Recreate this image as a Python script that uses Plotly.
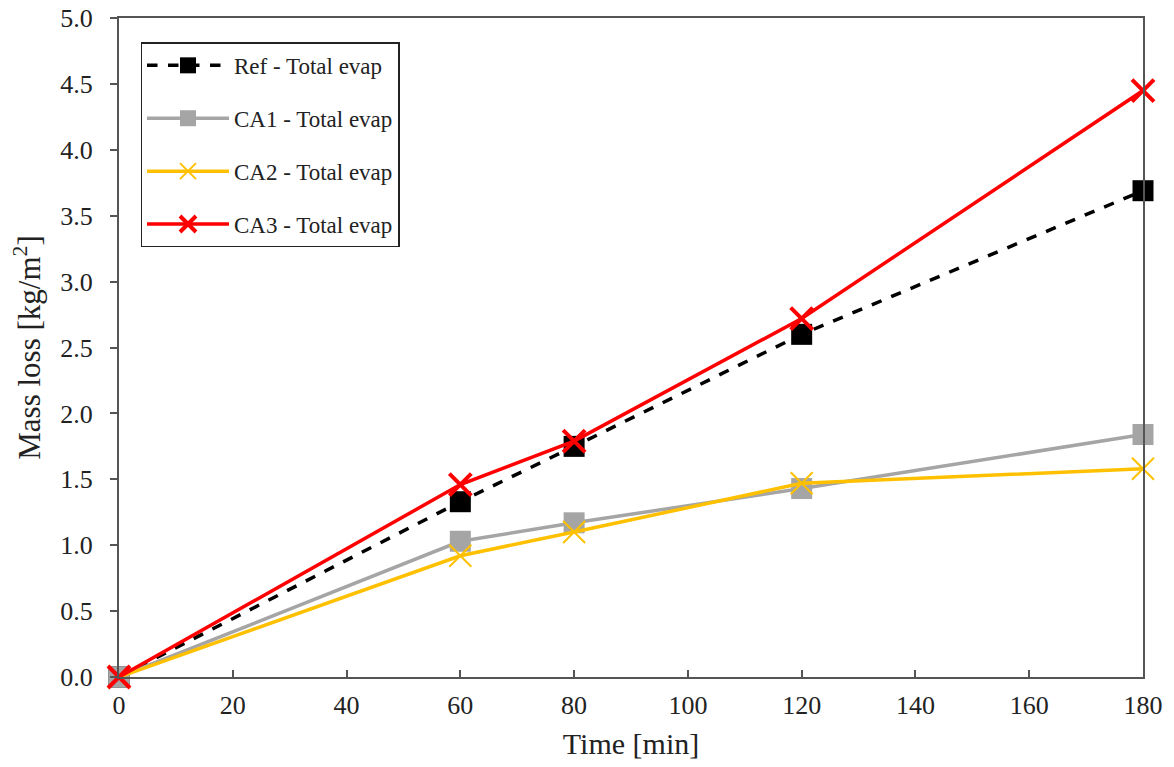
import plotly.graph_objects as go

time_min = [0, 60, 80, 120, 180]
ref_total = [0.0, 1.33, 1.75, 2.60, 3.69]
ca1_total = [0.0, 1.03, 1.17, 1.43, 1.84]
ca2_total = [0.0, 0.92, 1.10, 1.47, 1.58]
ca3_total = [0.0, 1.46, 1.79, 2.72, 4.45]

x_ticks = [0, 20, 40, 60, 80, 100, 120, 140, 160, 180]
y_ticks = [0.0, 0.5, 1.0, 1.5, 2.0, 2.5, 3.0, 3.5, 4.0, 4.5, 5.0]

names = ["Ref - Total evap", "CA1 - Total evap", "CA2 - Total evap", "CA3 - Total evap"]
series = [ref_total, ca1_total, ca2_total, ca3_total]
colors = ["#000000", "#A5A5A5", "#FFC000", "#FF0000"]
dashes = ["dash", "solid", "solid", "solid"]
symbols = ["square", "square", "x-thin", "x-thin"]
msizes = [21, 21, 22, 22]
mlines = [0, 0, 2, 4]

fig = go.Figure()
for i in range(4):
    fig.add_trace(go.Scatter(
        x=time_min, y=series[i], name=names[i], mode="lines+markers",
        line=dict(color=colors[i], width=3.5, dash=dashes[i]),
        marker=dict(symbol=symbols[i], size=msizes[i], color=colors[i],
                    line=dict(color=colors[i], width=mlines[i])),
        cliponaxis=False, legendgroup=f"g{i}",
    ))

font_family = "Liberation Serif, Times New Roman, serif"
fig.update_layout(
    width=1174, height=767,
    margin=dict(l=119, r=31, t=18, b=90),
    paper_bgcolor="white", plot_bgcolor="white",
    font=dict(family=font_family, size=24, color="#222"),
    showlegend=True,
    legend=dict(x=0.021, y=0.963, xanchor="left", yanchor="top",
                bordercolor="#222", borderwidth=1.5, bgcolor="white",
                font=dict(size=23, family=font_family, color="#222"),
                tracegroupgap=20, traceorder="grouped", itemwidth=82),
    xaxis=dict(range=[0, 180], tickvals=x_ticks,
               showgrid=False, zeroline=False, showline=True, mirror=True,
               linecolor="#555", linewidth=2, ticks="inside", ticklen=7,
               tickcolor="#555", tickwidth=1.5, automargin=False,
               ticklabelstandoff=4, ticklabeloverflow="allow",
               title=dict(text="Time [min]", font=dict(size=30, family=font_family), standoff=14),
               tickfont=dict(size=26, family=font_family)),
    yaxis=dict(range=[0, 5.0005], tickvals=y_ticks, tickformat=".1f",
               showgrid=False, zeroline=False, showline=True, mirror=True,
               linecolor="#555", linewidth=2, ticks="outside", ticklen=7,
               tickcolor="#555", tickwidth=1.5, automargin=False,
               ticklabelstandoff=12, ticklabeloverflow="allow",
               title=dict(text="Mass loss [kg/m<sup>2</sup>]", font=dict(size=31, family=font_family), standoff=10),
               tickfont=dict(size=26, family=font_family)),
)

fig.write_html("out.html", config={"displayModeBar": False},
               post_script="document.body.style.margin='0';document.body.style.overflow='hidden';")
